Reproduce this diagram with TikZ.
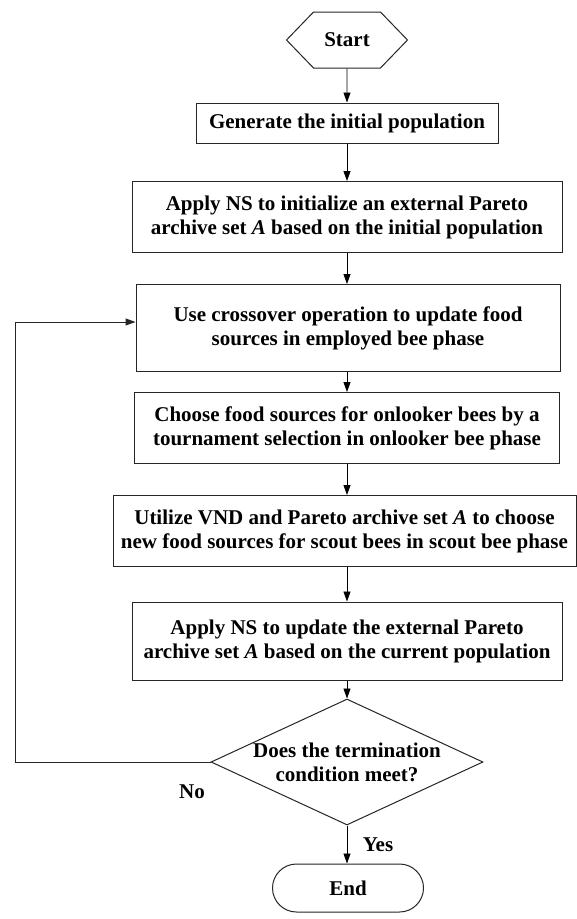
\documentclass[tikz,border=0pt]{standalone}
\usepackage{fontspec}
\setmainfont{Liberation Serif}
\usetikzlibrary{shapes.geometric,shapes.symbols,shapes.misc,arrows.meta,calc}
\begin{document}
\begin{tikzpicture}[x=1pt,y=-1pt,
  font=\fontsize{21}{24}\selectfont\bfseries,
  shp/.style={draw=black!85, line width=1pt, align=center, inner sep=0pt},
  box/.style={shp, rectangle},
  arr/.style={-{Triangle[length=10pt,width=7pt]}, line width=0.9pt},
  lbl/.style={inner sep=0pt}]
\useasboundingbox[fill=white] (0,0) rectangle (577,919);
\node[shp, signal, signal to=east and west, signal pointer angle=92,
      minimum width=121pt, minimum height=56pt] (start) at (347,40) {Start};
\node[box, minimum width=302pt, minimum height=40pt] (b1) at (347,123) {Generate the initial population};
\node[box, minimum width=430pt, minimum height=71pt] (b2) at (347,217)
  {Apply NS to initialize an external Pareto\\archive set \textit{A} based on the initial population};
\node[box, minimum width=424pt, minimum height=87pt] (b3) at (348,328)
  {Use crossover operation to update food\\sources in employed bee phase};
\node[box, minimum width=425pt, minimum height=71pt] (b4) at (347,428)
  {Choose food sources for onlooker bees by a\\tournament selection in onlooker bee phase};
\node[box, minimum width=463pt, minimum height=71pt] (b5) at (344.5,531)
  {Utilize VND and Pareto archive set \textit{A} to choose\\new food sources for scout bees in scout bee phase};
\node[box, minimum width=430pt, minimum height=78pt] (b6) at (347,641)
  {Apply NS to update the external Pareto\\archive set \textit{A} based on the current population};
\node[shp, diamond, minimum width=272pt, minimum height=126pt] (d) at (347,762) {};
\node[lbl, align=center] (dt) at (347,762) {Does the termination\\condition meet?};
\node[shp, rounded rectangle, minimum width=151pt, minimum height=48pt] (e) at (348,888) {End};
\node[lbl] (yes) at (378,845) {Yes};
\node[lbl] (no) at (192,792) {No};
\coordinate (lp) at (15,762);
\draw[arr] (start) -- (b1);
\draw[arr] (b1) -- (b2);
\draw[arr] (b2.south -| b3.north) ++(-1,0) -- ([xshift=-1pt]b3.north);
\draw[arr] ([xshift=-1pt]b3.south) -- (b4);
\draw[arr] (b4) -- (b4 |- b5.north);
\draw[arr] (b5.south -| b6.north) -- (b6);
\draw[arr] (b6) -- (d);
\draw[arr] (d.south) -- (d.south |- e.north);
\draw[arr, line width=1pt, draw=black!85] (d.west) -- (lp) |- ([yshift=6pt]b3.west);
\end{tikzpicture}
\end{document}
